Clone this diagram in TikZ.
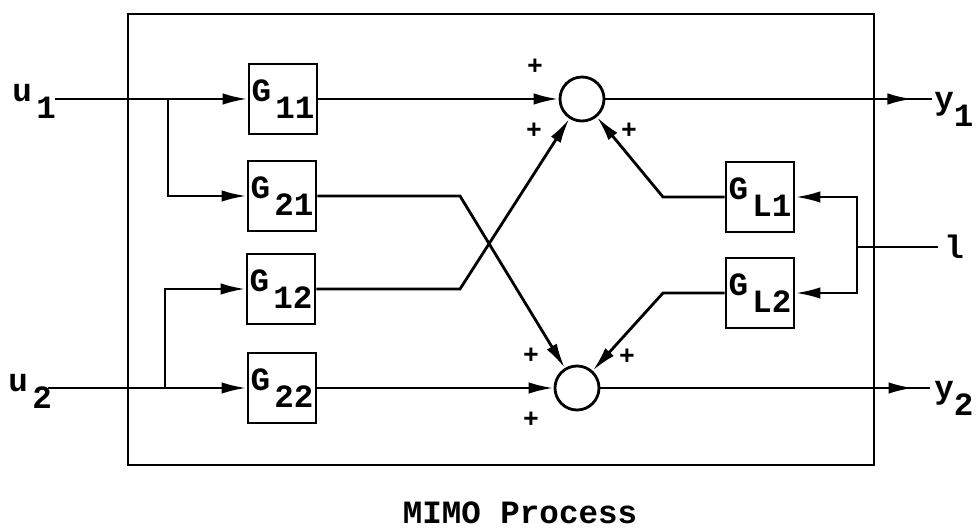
\documentclass[tikz,border=0pt]{standalone}
\usepackage{fontspec}
\setmainfont{Liberation Mono}
\usetikzlibrary{arrows.meta,decorations.markings}

\newcommand{\lowidx}[2][2.5pt]{\hspace{#1}\raisebox{-9.5pt}{#2}}

\begin{document}
\begin{tikzpicture}[
    x=0.2mm, y=-0.2mm,
    line width=1.6pt,
    every node/.style={font=\fontsize{18.5}{20}\selectfont\bfseries, inner sep=0pt},
    block/.style={draw, rectangle, minimum width=13.6mm, minimum height=14mm},
    sum/.style={draw, circle, minimum size=8.8mm},
    sig/.style={-{Latex[length=5mm,width=2.3mm]}},
    outsig/.style={postaction={decorate},
        decoration={markings, mark=at position #1 with {\arrow{Latex[length=5mm,width=2.3mm]}}}},
    sign/.style={font=\fontsize{15}{15}\selectfont\bfseries}
]
\useasboundingbox (0,0) rectangle (976,531);

\node[draw, minimum width=149.2mm, minimum height=90.2mm] (process) at (501,239.5) {};
\node[font=\fontsize{18.5}{20}\selectfont\bfseries] (caption) at (520,513) {MIMO Process};

\node[block] (g11) at (283,99) {G\lowidx{11}};
\node[block] (g21) at (282,196) {G\lowidx{21}};
\node[block] (g12) at (281,289) {G\lowidx{12}};
\node[block] (g22) at (282,388) {G\lowidx{22}};
\node[block] (gl1) at (760,197) {G\lowidx{L1}};
\node[block] (gl2) at (760,293) {G\lowidx{L2}};

\node[sum] (sum1) at (582,99) {};
\node[sum] (sum2) at (577,388) {};

\node[sign] (p11) at (535,67) {+};
\node[sign] (p12) at (534,131) {+};
\node[sign] (p13) at (629,131) {+};
\node[sign] (p21) at (531,356) {+};
\node[sign] (p22) at (627,357) {+};
\node[sign] (p23) at (531,420) {+};

\node[anchor=base west] (lu1) at (11,102) {u\lowidx{1}};
\node[anchor=base west] (lu2) at (7,392) {u\lowidx{2}};
\node[anchor=base west] (ly1) at (933,110) {y\lowidx[0pt]{1}};
\node[anchor=base west] (ly2) at (933,399) {y\lowidx[0pt]{2}};
\node[anchor=west] (ll) at (943,247) {l};

\coordinate (u1) at (55,99);
\coordinate (u2) at (48,388);
\coordinate (j1) at (168,99);
\coordinate (j2) at (165,388);
\coordinate (k21) at (460,196);
\coordinate (k12) at (460,289);
\coordinate (kl1) at (663,197);
\coordinate (kl2) at (663,293);
\coordinate (y1) at (932,99);
\coordinate (y2) at (930,388);
\coordinate (d) at (938,247);
\coordinate (dj) at (857,247);

\draw[sig] (u1) -- (g11.west);
\draw[sig] (j1) |- (g21.west);
\draw[sig] (u2) -- (g22.west);
\draw[sig] (j2) |- (g12.west);

\draw[sig] (g11.east) -- (sum1.west);
\draw[sig] (g22.east) -- (sum2.west);
\draw[sig] (g21.east) -- (k21) -- (sum2);
\draw[sig] (g12.east) -- (k12) -- (sum1);
\draw[sig] (gl1.west) -- (kl1) -- (sum1);
\draw[sig] (gl2.west) -- (kl2) -- (sum2);

\draw[outsig=0.94] (sum1.east) -- (y1);
\draw[outsig=0.95] (sum2.east) -- (y2);

\draw (d) -- (dj);
\draw[sig] (dj) |- (gl1.east);
\draw[sig] (dj) |- (gl2.east);
\end{tikzpicture}
\end{document}
